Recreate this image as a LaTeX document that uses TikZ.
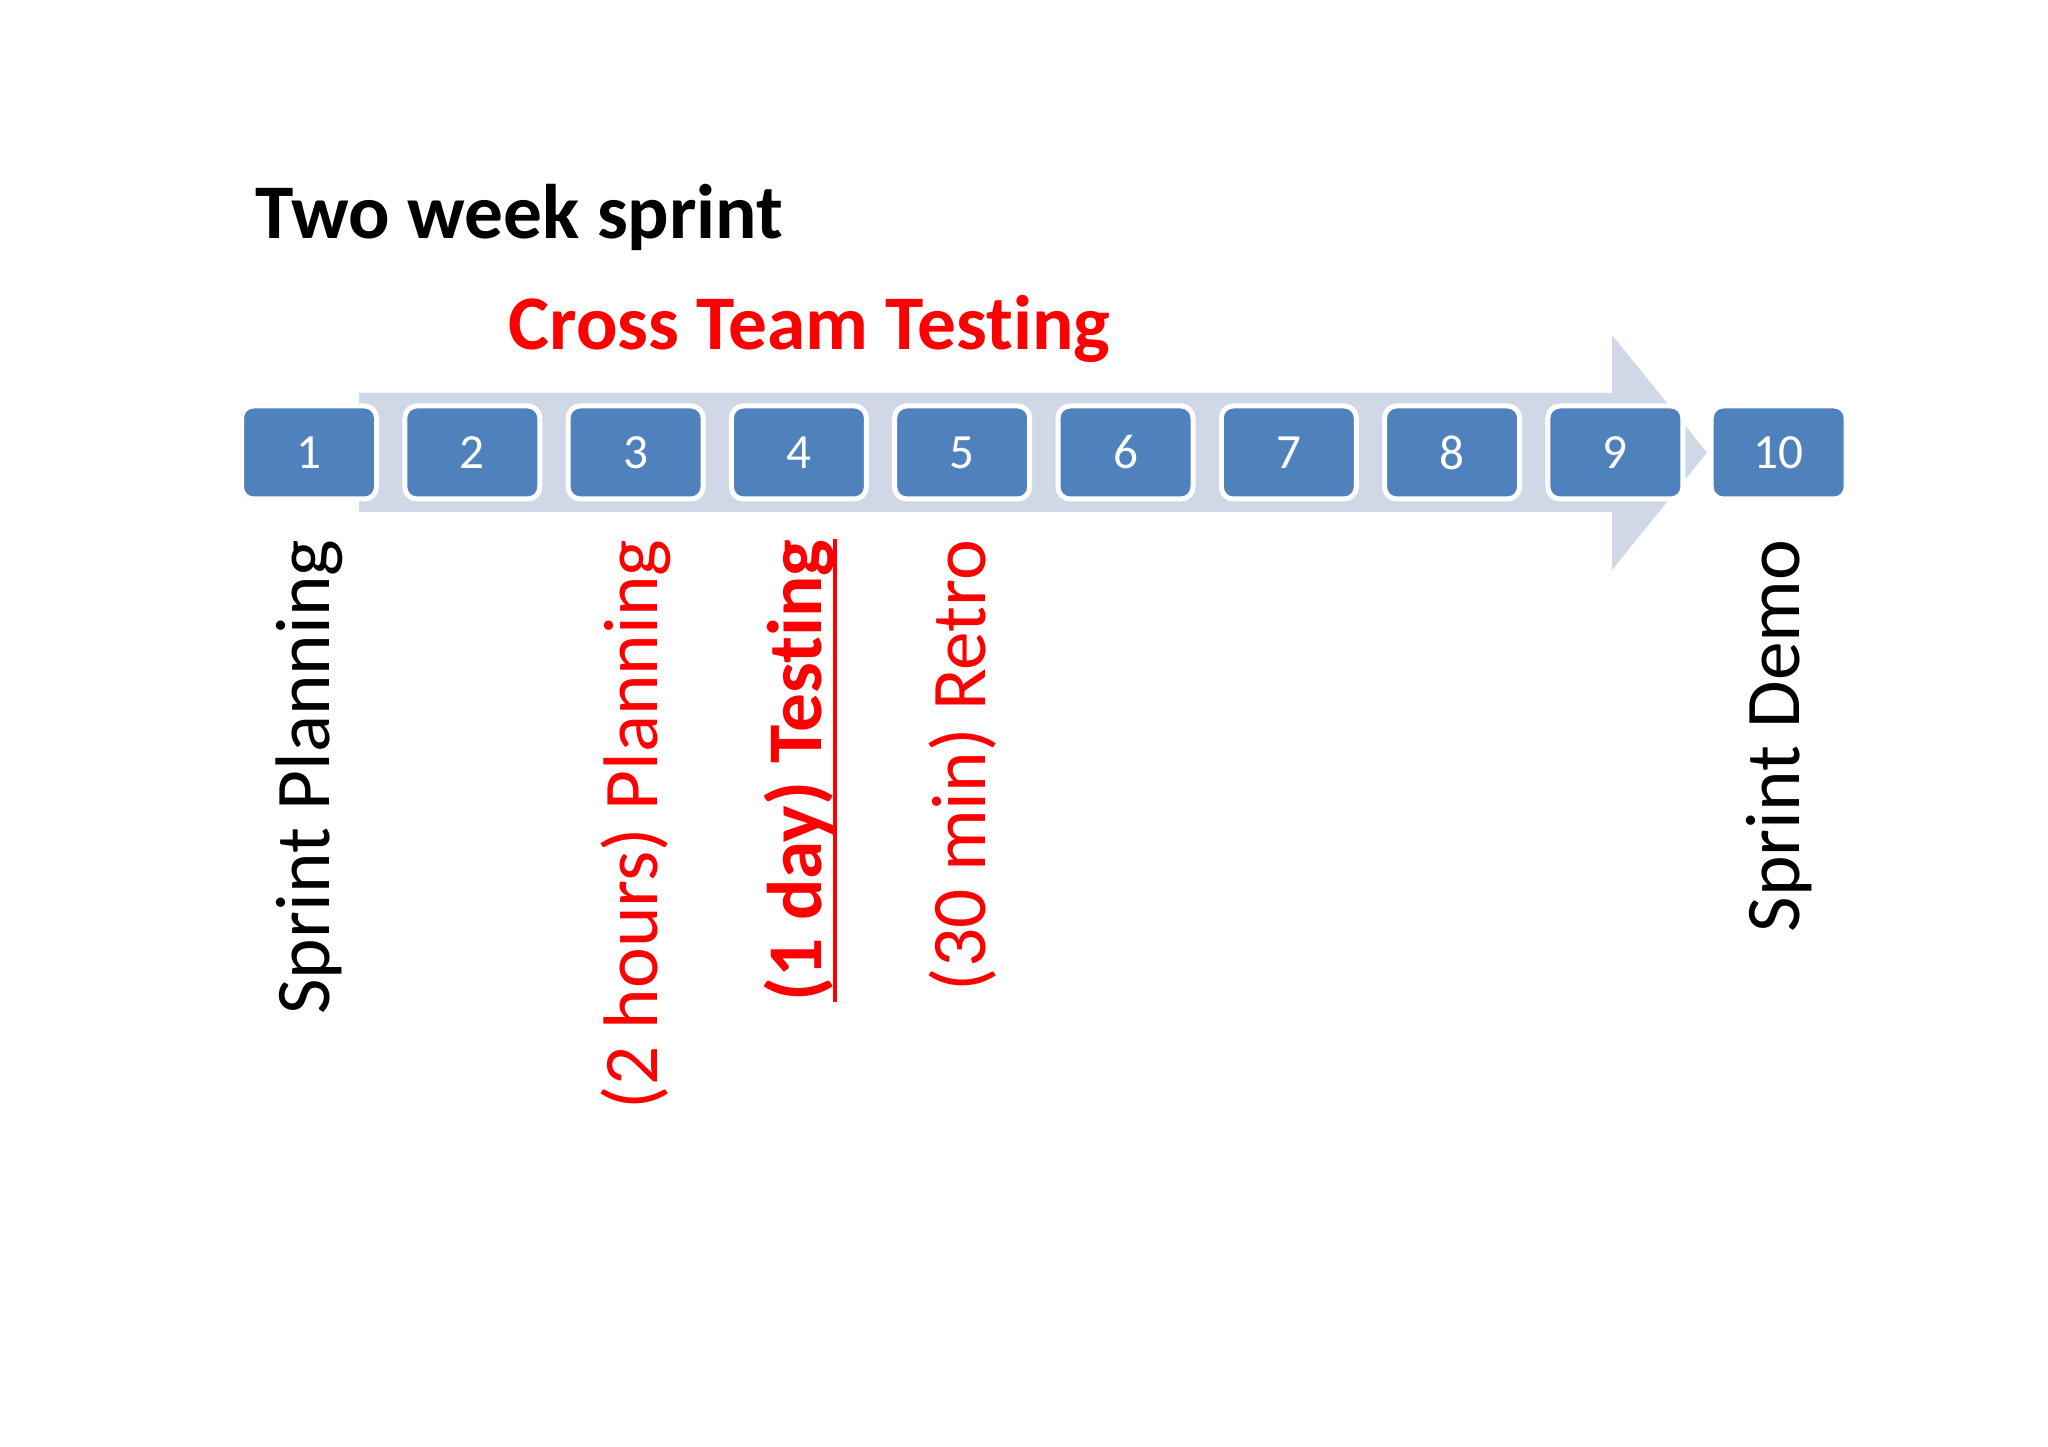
\documentclass[tikz,border=0pt]{standalone}
\usepackage{fontspec}
\setmainfont{Carlito}[Ligatures=NoCommon]
\usetikzlibrary{positioning}
\definecolor{boxblue}{RGB}{79,129,189}
\definecolor{arrowgray}{RGB}{208,216,232}
\definecolor{hotred}{RGB}{255,0,0}

\begin{document}
\begin{tikzpicture}[daybox/.style={draw=white,line width=0.05cm,fill=boxblue,rounded corners=0.12cm,
            minimum width=1.35cm,minimum height=0.93cm,inner sep=0pt,text=white,
            font=\fontsize{14}{16}\selectfont},
        lbl/.style={rotate=90,anchor=east,inner sep=0pt,font=\fontsize{22}{26}\selectfont},
        heading/.style={anchor=base west,inner sep=0pt,font=\fontsize{22}{26}\selectfont\bfseries}]
        \useasboundingbox[fill=white] (0,0) rectangle (20.48,14.47);
        %\draw[very thin,color=gray] (0,0) grid (20,14);
        \node[heading] (title) at (2.55,12.08) {Two week sprint};
        \node[heading,text=hotred] (cross) at (5.08,10.97) {Cross Team Testing};
        \fill[arrowgray] (3.59,10.54) -- (16.12,10.54) -- (16.12,11.12) -- (17.07,9.945)
            -- (16.12,8.77) -- (16.12,9.35) -- (3.59,9.35) -- cycle;
        \foreach \i in {1,...,10}
            \node[daybox] (b\i) at ({3.09+(\i-1)*1.633},9.945) {\i};
        \node[lbl] (plan) at ([yshift=-0.375cm]b1.south) {Sprint Planning};
        \node[lbl,text=hotred] (hours) at ([yshift=-0.375cm]b3.south) {(2 hours) Planning};
        \node[lbl,text=hotred,font=\fontsize{22}{26}\selectfont\bfseries] (test) at ([yshift=-0.375cm]b4.south) {(1 day) Testing};
        \draw[hotred,line width=1.1pt] ([xshift=4pt]test.base west) -- ([xshift=4pt]test.base east);
        \node[lbl,text=hotred] (retro) at ([yshift=-0.375cm]b5.south) {(30 min) Retro};
        \node[lbl] (demo) at ([yshift=-0.375cm]b10.south) {Sprint Demo};
    \end{tikzpicture}
\end{document}
